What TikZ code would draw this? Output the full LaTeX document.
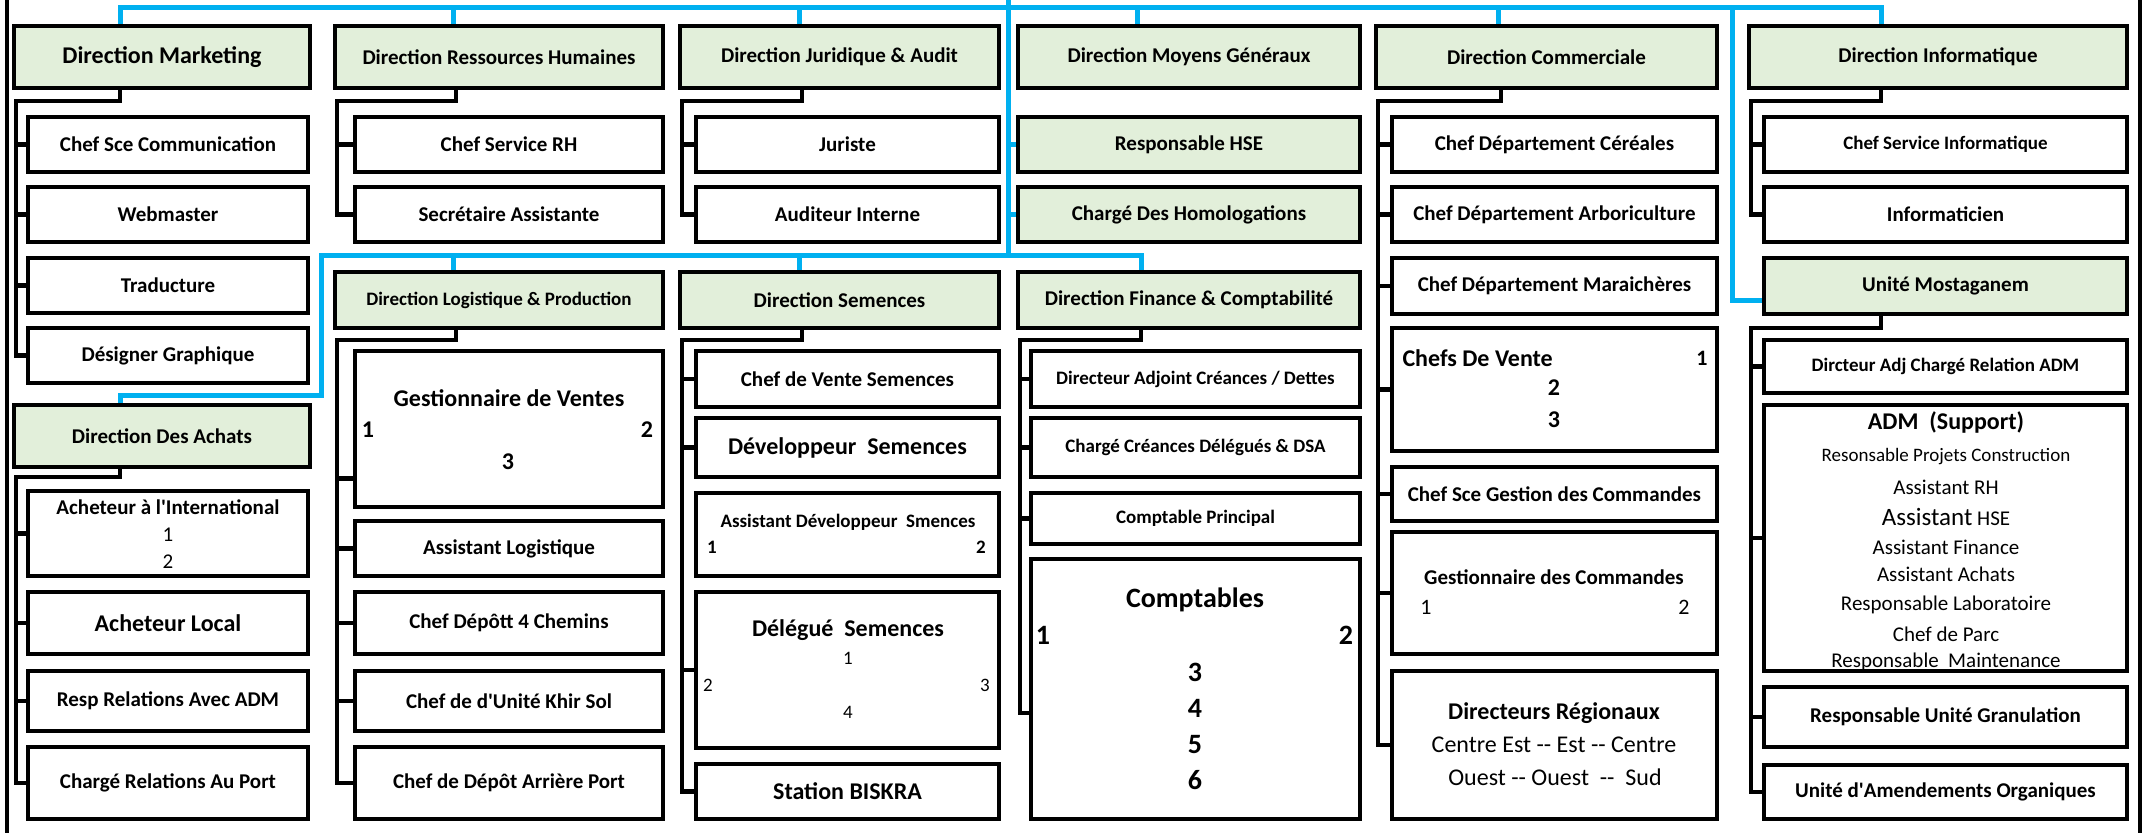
\documentclass[tikz,border=0pt]{standalone}
\usepackage{fontspec}
\setmainfont{Carlito}
\definecolor{hdgreen}{HTML}{E2EFDA}
\definecolor{linkblue}{HTML}{00B0F0}
\tikzset{
  box/.style={draw, rectangle, line width=4.6pt, inner sep=0pt, fill=white},
  hdr/.style={box, fill=hdgreen},
  sz/.style 2 args={minimum width=#1pt, minimum height=#2pt},
  bfs/.style={font={\bfseries\fontsize{#1}{#1}\selectfont}},
  rms/.style={font={\fontsize{#1}{#1}\selectfont}},
  tie/.style={line width=4.6pt},
  link/.style={linkblue, line width=5pt},
}
\begin{document}
\begin{tikzpicture}[x=1pt, y=-1pt]
\useasboundingbox (0,0) rectangle (2146,833);
% frame
\draw[tie] (7,0) -- (7,833);
\draw[tie] (2140,0) -- (2140,833);

% Marketing / Achats
\node[hdr, sz={296}{62}, bfs=24] (mkt) at (162,57) {Direction Marketing};
\node[box, sz={280}{55}, bfs=21] (mc1) at (168,144.5) {Chef Sce Communication};
\node[box, sz={280}{55}, bfs=21] (mc2) at (168,214.5) {Webmaster};
\node[box, sz={280}{55}, bfs=21] (mc3) at (168,285.5) {Traducture};
\node[box, sz={280}{55}, bfs=21] (mc4) at (168,355.5) {Désigner Graphique};
\node[hdr, sz={296}{62}, bfs=21] (ach) at (162,436) {Direction Des Achats};
\node[box, sz={280}{85}] (ac1) at (168,533.5) {};
\node[box, sz={280}{62}, bfs=24] (ac2) at (168,623) {Acheteur Local};
\node[box, sz={280}{60}, bfs=21] (ac3) at (168,701) {Resp Relations Avec ADM};
\node[box, sz={280}{72}, bfs=21] (ac4) at (168,783) {Chargé Relations Au Port};
\node[bfs=21] (ac1t) at (168,507) {Acheteur à l\textquotesingle International};
\node[rms=21] (ac1a) at (168,535) {1};
\node[rms=21] (ac1b) at (168,562) {2};

% RH / Logistique
\node[hdr, sz={328}{62}, bfs=21] (rh) at (499,57) {Direction Ressources Humaines};
\node[box, sz={308}{55}, bfs=21] (rh1) at (509,144.5) {Chef Service RH};
\node[box, sz={308}{55}, bfs=21] (rh2) at (509,214.5) {Secrétaire Assistante};
\node[hdr, sz={328}{56}, bfs=19] (log) at (499,300) {Direction Logistique \& Production};
\node[box, sz={308}{156}] (lg1) at (509,429) {};
\node[box, sz={308}{55}, bfs=21] (lg2) at (509,548.5) {Assistant Logistique};
\node[box, sz={308}{62}, bfs=21] (lg3) at (509,623) {Chef Dépôtt 4 Chemins};
\node[box, sz={308}{60}, bfs=21] (lg4) at (509,701) {Chef de d\textquotesingle Unité Khir Sol};
\node[box, sz={308}{72}, bfs=21] (lg5) at (509,783) {Chef de Dépôt Arrière Port};
\node[bfs=24] (lg1t) at (509,398) {Gestionnaire de Ventes};
\node[bfs=24] (lg1a) at (368,430) {1};
\node[bfs=24] (lg1b) at (647,430) {2};
\node[bfs=24] (lg1c) at (508,462) {3};

% Juridique / Semences
\node[hdr, sz={319}{62}, bfs=21] (jur) at (839.5,57) {Direction Juridique \& Audit};
\node[box, sz={303}{55}, bfs=21] (ju1) at (847.5,144.5) {Juriste};
\node[box, sz={303}{55}, bfs=21] (ju2) at (847.5,214.5) {Auditeur Interne};
\node[hdr, sz={319}{56}, bfs=21] (sem) at (839.5,300) {Direction Semences};
\node[box, sz={303}{56}, bfs=21] (se1) at (847.5,379) {Chef de Vente Semences};
\node[box, sz={303}{59}, bfs=24] (se2) at (847.5,447.5) {Développeur~ Semences};
\node[box, sz={303}{83}] (se3) at (847.5,534.5) {};
\node[box, sz={303}{156}] (se4) at (847.5,670) {};
\node[box, sz={303}{55}, bfs=24] (se5) at (847.5,791.5) {Station BISKRA};
\node[bfs=19] (se3t) at (848,522) {Assistant Développeur~ Smences};
\node[bfs=19] (se3a) at (712,547) {1};
\node[bfs=19] (se3b) at (981,547) {2};
\node[bfs=24] (se4t) at (848,630) {Délégué~ Semences};
\node[rms=19] (se4a) at (848,658) {1};
\node[rms=19] (se4b) at (708,685) {2};
\node[rms=19] (se4c) at (985,685) {3};
\node[rms=19] (se4d) at (848,712) {4};

% Moyens Generaux / Finance
\node[hdr, sz={342}{62}, bfs=21] (moy) at (1189,57) {Direction Moyens Généraux};
\node[hdr, sz={342}{55}, bfs=21] (hse) at (1189,144.5) {Responsable HSE};
\node[hdr, sz={342}{55}, bfs=21] (hom) at (1189,214.5) {Chargé Des Homologations};
\node[hdr, sz={342}{56}, bfs=21] (fin) at (1189,300) {Direction Finance \& Comptabilité};
\node[box, sz={329}{56}, bfs=19] (fi1) at (1195.5,379) {Directeur Adjoint Créances / Dettes};
\node[box, sz={329}{59}, bfs=19] (fi2) at (1195.5,447.5) {Chargé Créances Délégués \& DSA};
\node[box, sz={329}{51}, bfs=19] (fi3) at (1195.5,518.5) {Comptable Principal};
\node[box, sz={329}{260}] (fi4) at (1195.5,689) {};
\node[bfs=28] (fi4t) at (1195,600) {Comptables};
\node[bfs=28] (fi4a) at (1043,635) {1};
\node[bfs=28] (fi4b) at (1346,635) {2};
\node[bfs=28] (fi4c) at (1195,672) {3};
\node[bfs=28] (fi4d) at (1195,708) {4};
\node[bfs=28] (fi4e) at (1195,745) {5};
\node[bfs=28] (fi4f) at (1195,780) {6};

% Commerciale
\node[hdr, sz={341}{62}, bfs=21] (com) at (1546.5,57) {Direction Commerciale};
\node[box, sz={325}{55}, bfs=21] (co1) at (1554.5,144.5) {Chef Département Céréales};
\node[box, sz={325}{55}, bfs=21] (co2) at (1554.5,214.5) {Chef Département Arboriculture};
\node[box, sz={325}{56}, bfs=21] (co3) at (1554.5,286) {Chef Département Maraichères};
\node[box, sz={325}{123}] (co4) at (1554.5,389.5) {};
\node[box, sz={325}{54}, bfs=21] (co5) at (1554.5,494) {Chef Sce Gestion des Commandes};
\node[box, sz={325}{122}] (co6) at (1554.5,593) {};
\node[box, sz={325}{148}] (co7) at (1554.5,745) {};
\node[bfs=24, anchor=west] (co4t) at (1399,358) {Chefs De Vente};
\node[bfs=22] (co4a) at (1702,358) {1};
\node[bfs=24] (co4b) at (1554,388) {2};
\node[bfs=24] (co4c) at (1554,420) {3};
\node[bfs=21] (co6t) at (1554,577) {Gestionnaire des Commandes};
\node[rms=22] (co6a) at (1426,607) {1};
\node[rms=22] (co6b) at (1684,607) {2};
\node[bfs=24] (co7t) at (1554,713) {Directeurs Régionaux};
\node[rms=24] (co7a) at (1554,745) {Centre Est -{}- Est -{}- Centre};
\node[rms=24] (co7b) at (1555,777) {Ouest -{}- Ouest~ -{}-~ Sud};

% Informatique / Mostaganem
\node[hdr, sz={378}{62}, bfs=21] (inf) at (1938,57) {Direction Informatique};
\node[box, sz={363}{55}, bfs=19] (in1) at (1945.5,144.5) {Chef Service Informatique};
\node[box, sz={363}{55}, bfs=21] (in2) at (1945.5,214.5) {Informaticien};
\node[hdr, sz={363}{56}, bfs=21] (mos) at (1945.5,286) {Unité Mostaganem};
\node[box, sz={363}{53}, bfs=19] (mo1) at (1945.5,366.5) {Dircteur Adj Chargé Relation ADM};
\node[box, sz={363}{266}] (mo2) at (1945.5,538) {};
\node[box, sz={363}{60}, bfs=21] (mo3) at (1945.5,717) {Responsable Unité Granulation};
\node[box, sz={363}{54}, bfs=21] (mo4) at (1945.5,792) {Unité d\textquotesingle Amendements Organiques};
\node[bfs=24] (mo2t) at (1946,422) {ADM~ (Support)};
\node[rms=19] (mo2a) at (1946,457) {Resonsable Projets Construction};
\node[rms=21] (mo2b) at (1946,487) {Assistant RH};
\node[rms=21] (mo2c) at (1946,517) {{\fontsize{25}{25}\selectfont Assistant} HSE};
\node[rms=21] (mo2d) at (1946,547) {Assistant Finance};
\node[rms=21] (mo2e) at (1946,574) {Assistant Achats};
\node[rms=21] (mo2f) at (1946,605) {Responsable Laboratoire};
\node[rms=21] (mo2g) at (1946,634) {Chef de Parc};
\node[rms=21] (mo2h) at (1946,662) {Responsable~ Maintenance};

% blue links
\coordinate (hub) at (1008,0);
\coordinate (hubl) at (1008,255);
\coordinate (ta) at (120,7);
\coordinate (tf) at (1881,7);
\coordinate (tm) at (1732,7);
\coordinate (sl) at (321,255);
\coordinate (sr) at (1141,255);
\coordinate (al) at (321,395);
\coordinate (ar) at (120,395);
\draw[link] (hub) -- (hubl);
\draw[link] (mkt.north -| ta) -- (ta) -- (tf) -- (inf.north -| tf);
\foreach \n/\d in {rh/121,jur/122,moy/122,com/125}
  \draw[link] ([xshift=\d pt]\n.north west) -- ([xshift=\d pt]\n.north west |- ta);
\draw[link] (tm) |- ([yshift=-14pt]mos.west);
\draw[link] (hse.west -| hub) -- (hse.west);
\draw[link] (hom.west -| hub) -- (hom.west);
\draw[link] (ach.north -| ar) -- (ar) -- (al) -- (sl) -- (sr) -- (fin.north -| sr);
\foreach \n/\d in {log/121,sem/122}
  \draw[link] ([xshift=\d pt]\n.north west) -- ([xshift=\d pt]\n.north west |- sl);

% black ties
\coordinate (mkd) at (120,101);  \coordinate (mkv) at (16,101);
\coordinate (rhd) at (456,101);  \coordinate (rhv) at (337,101);
\coordinate (jud) at (802,101);  \coordinate (juv) at (682,101);
\coordinate (cod) at (1501,101); \coordinate (cov) at (1378,101);
\coordinate (ind) at (1881,101); \coordinate (inv) at (1751,101);
\coordinate (lgd) at (456,340);  \coordinate (lgv) at (337,340);
\coordinate (sed) at (802,340);  \coordinate (sev) at (682,340);
\coordinate (fid) at (1141,340); \coordinate (fiv) at (1020,340);
\coordinate (acd) at (120,477);  \coordinate (acv) at (16,477);
\coordinate (mod) at (1881,328); \coordinate (mov) at (1751,328);

\draw[tie] (mkd |- mkt.south) -- (mkd) -- (mkv) |- (mc4.west);
\foreach \c in {mc1,mc2,mc3} \draw[tie] (mkv |- \c.west) -- (\c.west);
\draw[tie] (acd |- ach.south) -- (acd) -- (acv) |- (ac4.west);
\foreach \c in {ac1,ac2,ac3} \draw[tie] (acv |- \c.west) -- (\c.west);
\draw[tie] (rhd |- rh.south) -- (rhd) -- (rhv) |- (rh2.west);
\draw[tie] (rhv |- rh1.west) -- (rh1.west);
\draw[tie] (lgd |- log.south) -- (lgd) -- (lgv) |- (lg5.west);
\draw[tie] (lgv |- lg1.south west) ++(0,-31) -- ([yshift=31pt]lg1.south west);
\foreach \c in {lg2,lg3,lg4} \draw[tie] (lgv |- \c.west) -- (\c.west);
\draw[tie] (jud |- jur.south) -- (jud) -- (juv) |- (ju2.west);
\draw[tie] (juv |- ju1.west) -- (ju1.west);
\draw[tie] (sed |- sem.south) -- (sed) -- (sev) |- (se5.west);
\foreach \c in {se1,se2,se4} \draw[tie] (sev |- \c.west) -- (\c.west);
\draw[tie] (fid |- fin.south) -- (fid) -- (fiv) |- ([yshift=-24pt]fi4.west);
\foreach \c in {fi1,fi2,fi3} \draw[tie] (fiv |- \c.west) -- (\c.west);
\draw[tie] (cod |- com.south) -- (cod) -- (cov) |- (co7.west);
\foreach \c in {co1,co2,co3,co4,co5,co6} \draw[tie] (cov |- \c.west) -- (\c.west);
\draw[tie] (ind |- inf.south) -- (ind) -- (inv) |- (in2.west);
\draw[tie] (inv |- in1.west) -- (in1.west);
\draw[tie] (mod |- mos.south) -- (mod) -- (mov) |- (mo4.west);
\foreach \c in {mo1,mo2,mo3} \draw[tie] (mov |- \c.west) -- (\c.west);
\end{tikzpicture}
\end{document}
